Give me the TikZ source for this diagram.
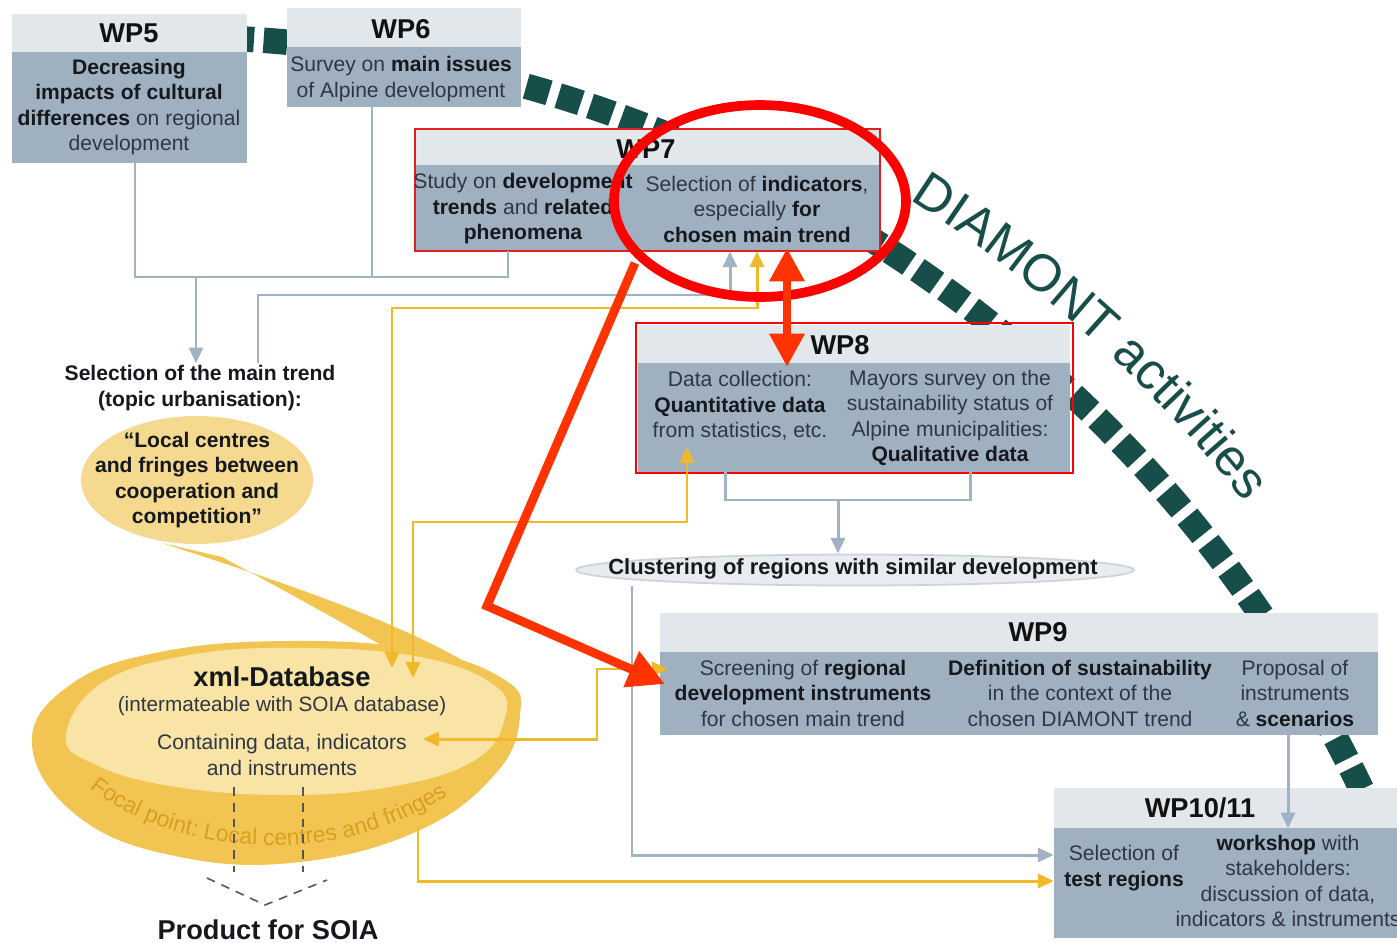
\documentclass[tikz,border=0pt]{standalone}
\usepackage{fontspec}
\setmainfont{Liberation Sans}
\usetikzlibrary{fit,arrows.meta,decorations.text,calc,shapes.geometric}

\definecolor{hdrc}{HTML}{E2E7EB}
\definecolor{bodyc}{HTML}{9FB0C1}
\definecolor{ink}{HTML}{2E3744}
\definecolor{inkb}{HTML}{15191E}
\definecolor{inkh}{HTML}{111111}
\definecolor{linec}{HTML}{A0B3C4}
\definecolor{gold}{HTML}{F1B92A}
\definecolor{dbband}{HTML}{F2C552}
\definecolor{dbcore}{HTML}{F9E3A5}
\definecolor{bubble}{HTML}{F5D98E}
\definecolor{arcc}{HTML}{184E4A}
\definecolor{focal}{HTML}{D6A020}
\definecolor{framec}{HTML}{E02020}
\definecolor{ringc}{HTML}{FF0000}
\definecolor{arrowc}{HTML}{FF3300}
\definecolor{clusterc}{HTML}{E8EBEF}
\definecolor{clusterrim}{HTML}{CDD3DA}
\definecolor{prodc}{HTML}{555555}

\newcommand\wpbody{\fontsize{12}{14.5}\selectfont}
\newcommand\wphead{\fontsize{15.5}{18}\selectfont\bfseries}
\newcommand\kw[1]{\textbf{\color{inkb}#1}}
\newcommand\diamontfont{\fontsize{29.6}{34}\selectfont\color{arcc}}
\newcommand\focalfont{\fontsize{13}{15}\selectfont\color{focal}}

\tikzset{
  hdr/.style={fill=hdrc, inner sep=0pt},
  bdy/.style={fill=bodyc, inner sep=0pt},
  wptitle/.style={font=\wphead, text=inkh, inner sep=0pt},
  wptext/.style={font=\wpbody, text=ink, align=center, inner sep=0pt},
  frame/.style={draw=framec, line width=0.9pt, inner sep=0pt},
  gline/.style={draw=linec, line width=1.7pt},
  garrow/.style={gline, -{Triangle[width=8pt,length=9pt]}},
  yline/.style={draw=gold, line width=1.7pt},
  yarrow/.style={yline, -{Triangle[width=8pt,length=9pt]}},
  ytwo/.style={yline, {Triangle[width=8pt,length=9pt]}-{Triangle[width=8pt,length=9pt]}},
  ring/.style={draw=ringc, line width=5.5pt},
  redarrow/.style={draw=arrowc, line width=5pt, -{Triangle[width=21pt,length=21pt]}},
  redtwo/.style={draw=arrowc, line width=5pt, {Triangle[width=19pt,length=19pt]}-{Triangle[width=19pt,length=19pt]}},
  arcline/.style={draw=arcc, line width=14.5pt, dash pattern=on 13.5pt off 5.5pt},
  prodline/.style={draw=prodc, line width=0.9pt, dash pattern=on 5pt off 4pt},
}

\begin{document}
\begin{tikzpicture}[x=0.02cm, y=-0.02cm]
\useasboundingbox (0,0) rectangle (1397,943);
\fill[white] (0,0) rectangle (1397,943);

% ---- DIAMONT activities: dashed arc with its label ----
\coordinate (arcO) at (168,1359.5);
\draw[arcline] ($(arcO)+(87.3:26.46cm)$) arc[start angle=87.3, end angle=25.3, radius=26.46cm];
\path[decorate, decoration={text along path, text align=left,
      text={|\diamontfont|DIAMONT activities}}]
  ($(arcO)+(57.4:27.54cm)$) arc[start angle=57.4, end angle=28, radius=27.54cm];

% ---- xml database with its speech tail ----
\fill[dbband] (162,543) .. controls (300,588) and (410,625) .. (492,678)
  -- (400,656) .. controls (330,615) and (270,583) .. (222,557) -- cycle;
\fill[dbband] plot[smooth cycle, tension=0.7] coordinates {
  (32,745) (70,685) (160,652) (290,641) (420,650) (505,680) (520,715)
  (497,772) (420,830) (300,862) (180,857) (80,818)};
\fill[dbcore] plot[smooth cycle, tension=0.7] coordinates {
  (66,736) (102,683) (190,655) (300,648) (420,657) (494,685) (505,718)
  (475,760) (395,786) (285,795) (170,786) (94,764)};

% ---- trend bubble ----
\node[ellipse, fill=bubble, minimum width=4.64cm, minimum height=2.56cm, inner sep=0pt] (trend) at (197,480) {};
\node[font=\wpbody\bfseries, text=inkb, align=center, inner sep=0pt] (trendtxt) at (trend)
  {“Local centres\\and fringes between\\cooperation and\\competition”};
\node[font=\wpbody\bfseries, text=inkb, align=center, inner sep=1pt] (sel) at (200,388)
  {Selection of the main trend\\(topic urbanisation):};

% ---- work package boxes ----
% WP5
\node[hdr, fit={(12,14)(247,52)}] (wp5h) {};
\node[bdy, fit={(12,52)(247,163)}] (wp5b) {};
\node[wptitle] (wp5t) at (129,33) {WP5};
\node[wptext] (wp5x) at (129,107) {\kw{Decreasing}\\\kw{impacts of cultural}\\\kw{differences} on regional\\development};
% WP6
\node[hdr, fit={(287,8)(521,47)}] (wp6h) {};
\node[bdy, fit={(287,47)(521,107)}] (wp6b) {};
\node[wptitle] (wp6t) at (401,29) {WP6};
\node[wptext] (wp6x) at (401,79) {Survey on \kw{main issues}\\of Alpine development};
% WP7
\node[hdr, fit={(415,129)(880,165)}] (wp7h) {};
\node[bdy, fit={(415,165)(880,251)}] (wp7b) {};
\node[frame, fit={(415,129)(880,251)}] (wp7) {};
\node[wptitle] (wp7t) at (646,149) {WP7};
\node[wptext] (wp7l) at (523,209) {Study on \kw{development}\\\kw{trends} and \kw{related}\\\kw{phenomena}};
\node[wptext] (wp7r) at (757,209) {Selection of \kw{indicators},\\especially \kw{for}\\\kw{chosen main trend}};
% WP8
\node[hdr, fit={(638,325)(1070,363)}] (wp8h) {};
\node[bdy, fit={(638,363)(1070,472)}] (wp8b) {};
\node[frame, draw=ringc, fit={(636,323)(1073,473)}] (wp8) {};
\node[wptitle] (wp8t) at (840,345) {WP8};
\node[wptext] (wp8l) at (740,406) {Data collection:\\\kw{Quantitative data}\\from statistics, etc.};
\node[wptext] (wp8r) at (950,418) {Mayors survey on the\\sustainability status of\\Alpine municipalities:\\\kw{Qualitative data}};
% WP9
\node[hdr, fit={(660,613)(1378,652)}] (wp9h) {};
\node[bdy, fit={(660,652)(1378,735)}] (wp9b) {};
\node[wptitle] (wp9t) at (1038,632) {WP9};
\node[wptext] (wp9a) at (803,693) {Screening of \kw{regional}\\\kw{development instruments}\\for chosen main trend};
\node[wptext] (wp9c) at (1080,693) {\kw{Definition of sustainability}\\in the context of the\\chosen DIAMONT trend};
\node[wptext] (wp9d) at (1295,693) {Proposal of\\instruments\\\& \kw{scenarios}};
% WP10/11
\node[hdr, fit={(1054,788)(1397,828)}] (wp10h) {};
\node[bdy, fit={(1054,828)(1397,938)}] (wp10b) {};
\node[wptitle] (wp10t) at (1200,808) {WP10/11};
\node[wptext] (wp10a) at (1124,868) {Selection of\\\kw{test regions}};
\node[wptext] (wp10c) at (1288,881) {\kw{workshop} with\\stakeholders:\\discussion of data,\\indicators \& instruments};

% ---- clustering step ----
\node[ellipse, fill=clusterc, draw=clusterrim, line width=1pt, minimum width=11.16cm, minimum height=0.62cm, inner sep=0pt] (clu) at (855,570) {};
\node[font=\fontsize{12.5}{15}\selectfont\bfseries, text=inkb, inner sep=0pt] (clutxt) at (853,569)
  {Clustering of regions with similar development};

% ---- database labels ----
\node[font=\fontsize{15.5}{18}\selectfont\bfseries, text=inkb, inner sep=0pt] (dbname) at (282,677) {xml-Database};
\node[font=\fontsize{11.8}{14}\selectfont, text=ink, inner sep=0pt] (dbsub) at (282,706) {(intermateable with SOIA database)};
\node[font=\wpbody, text=ink, align=center, inner sep=0pt] (dbcont) at (282,755) {Containing data, indicators\\and instruments};
\path[decorate, decoration={text along path, text align=left,
      text={|\focalfont|Focal point: Local centres and fringes}}]
  (90,788) .. controls (165,850) and (330,876) .. (452,792);

% ---- grey flow lines ----
\coordinate (g1) at (135,277);
\coordinate (g2) at (508,277);
\coordinate (g3) at (372,277);
\coordinate (g4) at (196,277);
\draw[gline] (wp5b.south -| g1) -- (g1) -- (g2) -- (wp7b.south -| g2);
\draw[gline] (wp6b.south -| g3) -- (g3);
\draw[garrow] (g4) -- (g4 |- sel.north);
\coordinate (g5) at (258,295);
\coordinate (g6) at (730,295);
\draw[garrow] (sel.north -| g5) -- (g5) -- (g6) -- (wp7b.south -| g6);
\coordinate (g7) at (725,500);
\coordinate (g8) at (970,500);
\coordinate (g9) at (838,500);
\draw[gline] (wp8b.south -| g7) -- (g7) -- (g8) -- (wp8b.south -| g8);
\draw[garrow] (g9) -- (clu.north -| g9);
\coordinate (g10) at (632,855);
\draw[garrow] (clu.south -| g10) -- (g10) -- (wp10b.west |- g10);
\coordinate (g11) at (1288,735);
\draw[garrow] (wp9b.south -| g11) -- (wp10h.south -| g11);

% ---- yellow data exchange with the database ----
\coordinate (y1) at (757,308);
\coordinate (y2) at (392,308);
\coordinate (dbin1) at (392,668);
\draw[ytwo] (wp7b.south -| y1) -- (y1) -- (y2) -- (dbin1);
\coordinate (wp8in) at (687,447);
\coordinate (y3) at (687,522);
\coordinate (y4) at (413,522);
\coordinate (dbin2) at (413,678);
\draw[ytwo] (wp8in) -- (y3) -- (y4) -- (dbin2);
\coordinate (wp9in) at (668,669);
\coordinate (y5) at (597,669);
\coordinate (y6) at (597,739);
\coordinate (dbin3) at (423,739);
\draw[ytwo] (wp9in) -- (y5) -- (y6) -- (dbin3);
\coordinate (dbout) at (418,826);
\coordinate (y7) at (418,881);
\draw[yarrow] (dbout) -- (y7) -- (wp10b.west |- y7);

% ---- product for SOIA ----
\node[font=\fontsize{15.5}{18}\selectfont\bfseries, text=inkb, inner sep=0pt] (soia) at (268,930) {Product for SOIA};
\coordinate (p1) at (234,787);
\coordinate (p2) at (234,872);
\coordinate (p3) at (303,787);
\coordinate (p4) at (303,872);
\coordinate (p5) at (207,878);
\coordinate (p6) at (265,905);
\coordinate (p7) at (327,880);
\draw[prodline] (p1) -- (p2);
\draw[prodline] (p3) -- (p4);
\draw[prodline] (p5) -- (p6) -- (p7);

% ---- highlight marks ----
\coordinate (ringc) at (760,201);
\draw[ring] (ringc) ellipse [x radius=2.92cm, y radius=1.92cm];
\coordinate (r1) at (787,248);
\coordinate (r2) at (787,367);
\draw[redtwo] (r1) -- (r2);
\coordinate (r3) at (635,263);
\coordinate (r4) at (487,606);
\coordinate (r5) at (665,684);
\draw[redarrow] (r3) -- (r4) -- (r5);
\end{tikzpicture}
\end{document}
